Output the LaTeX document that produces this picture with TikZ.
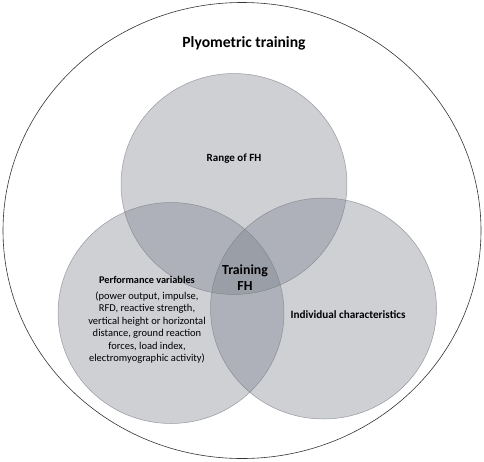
\documentclass[tikz,border=0pt]{standalone}
\usepackage{fontspec}
\setmainfont{Carlito}
\usepackage{xcolor}
\usetikzlibrary{shapes.geometric, positioning}
\definecolor{venngray}{RGB}{118,124,136}
\definecolor{vennline}{RGB}{120,123,130}
\tikzstyle{outer} = [ellipse, 
minimum width=478pt, 
minimum height=456pt, 
draw=black!80, 
line width=0.6pt]
\tikzstyle{venn} = [ellipse, 
minimum width=226pt, 
minimum height=221pt, 
fill=venngray, 
fill opacity=0.36, 
draw=vennline, 
draw opacity=0.7, 
line width=0.5pt]
\tikzstyle{title} = [font=\fontsize{15.6}{18}\selectfont\bfseries]
\tikzstyle{label} = [font=\fontsize{11.2}{12.5}\selectfont\bfseries, align=center]
\tikzstyle{detail} = [font=\fontsize{10.5}{12.5}\selectfont, align=center]

\begin{document}
\begin{tikzpicture}[x=1pt, y=-1pt]
        \useasboundingbox (0,0) rectangle (484,461);

        % --- Circulos ---
        \node (plyo) [outer] at (242,230.5) {};
        \node (range) [venn] at (234,184) {};
        \node (perf) [venn] at (171,313) {};
        \node (indiv) [venn] at (323.5,308.5) {};

        % --- Textos ---
        \node (plyotxt) [title] at (244,43) {Plyometric training};
        \node (rangetxt) [label, font=\fontsize{11}{12.5}\selectfont\bfseries] at (234,159) {Range of FH};
        \node (perftxt) [label, font=\fontsize{10.3}{12.5}\selectfont\bfseries] at (147,280) {Performance variables};
        \node (perfdet) [detail, below=1pt of perftxt] {(power output, impulse,\\
            RFD, reactive strength,\\
            vertical height or horizontal\\
            distance, ground reaction\\
            forces, load index,\\
            electromyographic activity)};
        \node (indivtxt) [label] at (348,315) {Individual characteristics};
        \node (train) [label, font=\fontsize{13.8}{16}\selectfont\bfseries] at (245,278) {Training\\FH};

    \end{tikzpicture}
\end{document}
